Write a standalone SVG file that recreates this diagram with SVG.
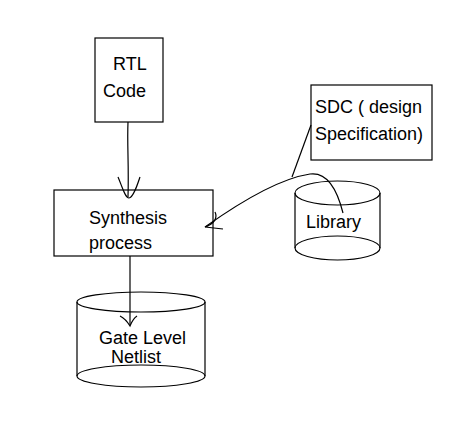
<svg xmlns="http://www.w3.org/2000/svg" width="460" height="433" viewBox="0 0 460 433">
<style>
.s{fill:none;stroke:#000;stroke-width:1.2}
.b{fill:#fff;stroke:#000;stroke-width:1.2}
text{font-family:"Liberation Sans",Arial,sans-serif;font-size:18px;fill:#000}
</style>
<rect width="460" height="433" fill="#fff"/>
<g id="rtl">
<rect class="b" x="95" y="38" width="68" height="84"/>
<text x="113" y="70">RTL</text>
<text x="103" y="97">Code</text>
</g>
<g id="synthesis">
<rect class="b" x="54" y="190" width="159" height="66"/>
<text x="89" y="224">Synthesis</text>
<text x="89" y="249">process</text>
</g>
<g id="sdc">
<rect class="b" x="311" y="85" width="121" height="75"/>
<text x="315" y="113">SDC ( design</text>
<text x="315" y="140">Specification)</text>
</g>
<g id="library">
<path class="b" d="M295,193 V248 A42.5,12 0 0 0 380,248 V193"/>
<ellipse class="s" cx="337.5" cy="193" rx="42.5" ry="12"/>
<path class="s" d="M295,248 A42.5,12 0 0 1 380,248"/>
<text x="306" y="228">Library</text>
</g>
<g id="netlist">
<path class="b" d="M77,302 V376 A64,11 0 0 0 205,376 V302"/>
<ellipse class="s" cx="141" cy="302" rx="64" ry="10"/>
<path class="s" d="M77,376 A64,11 0 0 1 205,376"/>
<text x="99" y="344">Gate Level</text>
<text x="111" y="363">Netlist</text>
</g>
<g id="connectors">
<path class="s" d="M128,122 C127,145 129,165 128,197"/>
<path class="s" d="M118,177 C122,186 125,198 129,198 C133,198 137,186 140,177"/>
<path class="s" d="M130,256 V325"/>
<path class="s" d="M120,316 C124,318 127,321 130,326 C132,321 134,318 137,316"/>
<path class="s" d="M311,125 L292,177"/>
<path class="s" d="M343,213 C336,185 325,172 310,174 C290,177 260,188 205,227"/>
<path class="s" d="M215,212 C218,218 214,224 205,227 L223,229"/>
</g>
</svg>
